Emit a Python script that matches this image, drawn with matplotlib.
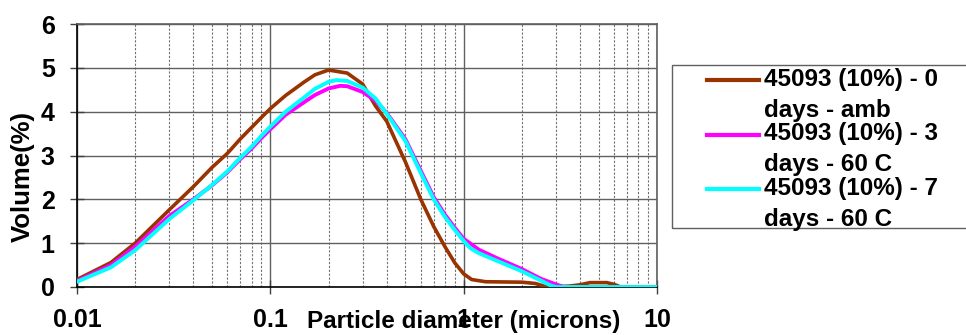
import numpy as np
import matplotlib.pyplot as plt
from matplotlib.patches import Rectangle
from matplotlib.legend_handler import HandlerLine2D
from matplotlib.ticker import FixedLocator, LogLocator, NullFormatter

plt.rcParams['font.family'] = ['Liberation Sans', 'DejaVu Sans']
plt.rcParams['font.weight'] = 'bold'

# particle diameter (microns) and volume (%)
d_amb = [0.01, 0.015, 0.02, 0.03, 0.04, 0.05, 0.06, 0.07, 0.08, 0.09, 0.1, 0.12, 0.15,
         0.17, 0.2, 0.25, 0.3, 0.35, 0.4, 0.5, 0.6, 0.7, 0.8, 0.9, 1.0, 1.1, 1.3,
         2.0, 2.35, 2.7, 3.5, 4.0, 4.5, 5.5, 6.0, 6.5, 10.0]
v_amb = [0.17, 0.56, 1.0, 1.76, 2.29, 2.73, 3.05, 3.38, 3.64, 3.87, 4.07, 4.37, 4.68,
         4.84, 4.95, 4.88, 4.63, 4.13, 3.78, 2.85, 2.0, 1.38, 0.92, 0.55, 0.3, 0.17, 0.12,
         0.11, 0.08, 0.0, 0.02, 0.05, 0.1, 0.1, 0.06, 0.0, 0.0]

d_3d = [0.01, 0.015, 0.02, 0.03, 0.04, 0.05, 0.06, 0.07, 0.08, 0.09, 0.1, 0.12, 0.15,
        0.17, 0.2, 0.23, 0.25, 0.3, 0.35, 0.4, 0.5, 0.6, 0.7, 0.8, 0.9, 1.0, 1.2, 1.5,
        2.0, 2.5, 3.0, 3.3, 10.0]
v_3d = [0.14, 0.5, 0.92, 1.62, 2.0, 2.32, 2.62, 2.92, 3.16, 3.4, 3.6, 3.93, 4.22,
        4.38, 4.53, 4.59, 4.58, 4.45, 4.25, 3.97, 3.37, 2.65, 2.05, 1.65, 1.35, 1.1, 0.85, 0.65,
        0.41, 0.19, 0.06, 0.0, 0.0]

d_7d = [0.01, 0.015, 0.02, 0.03, 0.04, 0.05, 0.06, 0.07, 0.08, 0.09, 0.1, 0.12, 0.15,
        0.17, 0.2, 0.22, 0.25, 0.3, 0.35, 0.4, 0.5, 0.6, 0.7, 0.8, 0.9, 1.0, 1.08, 1.2,
        1.5, 2.0, 2.5, 2.8, 3.0, 10.0]
v_7d = [0.12, 0.45, 0.84, 1.55, 1.98, 2.33, 2.64, 2.95, 3.2, 3.45, 3.66, 4.0, 4.33,
        4.52, 4.68, 4.72, 4.7, 4.55, 4.3, 3.95, 3.33, 2.6, 2.0, 1.6, 1.3, 1.05, 0.89, 0.77,
        0.59, 0.36, 0.15, 0.04, 0.0, 0.0]

labels = ['45093 (10%) - 0\ndays - amb',
          '45093 (10%) - 3\ndays - 60 C',
          '45093 (10%) - 7\ndays - 60 C']
colors = ['#993300', '#FF00FF', '#00FFFF']


class FirstLineHandler(HandlerLine2D):
    # put the legend line next to the first text line, not the middle
    def create_artists(self, legend, orig_handle, xdescent, ydescent,
                       width, height, fontsize, trans):
        arts = super().create_artists(legend, orig_handle, xdescent, ydescent,
                                      width, height, fontsize, trans)
        for a in arts:
            a.set_ydata(np.asarray(a.get_ydata()) + 0.62 * fontsize)
        return arts


W, H = 966, 335
fig = plt.figure(figsize=(W / 100, H / 100), dpi=100)
ax = fig.add_axes([77 / W, 1 - 287 / H, 580 / W, 263 / H])

l1, = ax.plot(d_amb, v_amb, color=colors[0], lw=2.6, label=labels[0], zorder=3)
l2, = ax.plot(d_3d, v_3d, color=colors[1], lw=2.8, label=labels[1], zorder=4)
l3, = ax.plot(d_7d, v_7d, color=colors[2], lw=2.8, label=labels[2], zorder=5)

ax.set_xscale('log')
ax.set_xlim(0.01, 10)
ax.set_ylim(0, 6)
ax.xaxis.set_major_locator(FixedLocator([0.01, 0.1, 1, 10]))
ax.set_xticklabels(['0.01', '0.1', '1', '10'])
ax.xaxis.set_minor_locator(LogLocator(base=10, subs=np.arange(2, 10)))
ax.xaxis.set_minor_formatter(NullFormatter())
ax.set_yticks(range(7))

ax.grid(True, which='major', axis='y', color='#606060', lw=1)
ax.grid(True, which='major', axis='x', color='#606060', lw=1)
ax.grid(True, which='minor', axis='x', color='#707070', lw=0.8, ls=(0, (2, 1.5)))

ax.tick_params(axis='both', which='major', direction='inout', length=10, width=1,
               labelsize=18, color='#404040')
ax.tick_params(axis='x', which='major', pad=10)
ax.tick_params(axis='y', which='major', pad=11)
ax.tick_params(axis='x', which='minor', length=0)

for s in ['left', 'bottom']:
    ax.spines[s].set_color('black')
    ax.spines[s].set_linewidth(1.2)
for s in ['top', 'right']:
    ax.spines[s].set_color('#606060')
    ax.spines[s].set_linewidth(1.2)

ax.set_xlabel('Particle diameter (microns)', fontsize=17.5, fontweight='bold')
ax.xaxis.set_label_coords(0.667, -0.133)
ax.xaxis.label.set_va('center')
ax.set_ylabel('Volume(%)', fontsize=18.5, fontweight='bold')
ax.yaxis.set_label_coords(-0.093, 0.422)
ax.yaxis.label.set_va('center')

fig.patches.append(Rectangle((672 / W, 1 - 228 / H), 310 / W, 163 / H,
                             transform=fig.transFigure, fill=False,
                             edgecolor='#606060', lw=1))
leg = fig.legend(handles=[l1, l2, l3], loc='upper left',
                 bbox_to_anchor=(707 / W, 1 - 68 / H),
                 frameon=False, fontsize=17.5, borderpad=0, borderaxespad=0,
                 handlelength=2.15, handletextpad=0.2, labelspacing=0.01,
                 handler_map={l: FirstLineHandler() for l in [l1, l2, l3]})
for t in leg.get_texts():
    t.set_linespacing(1.45)
for line in leg.get_lines():
    line.set_linewidth(3)

fig.savefig('out.png', dpi=100)
